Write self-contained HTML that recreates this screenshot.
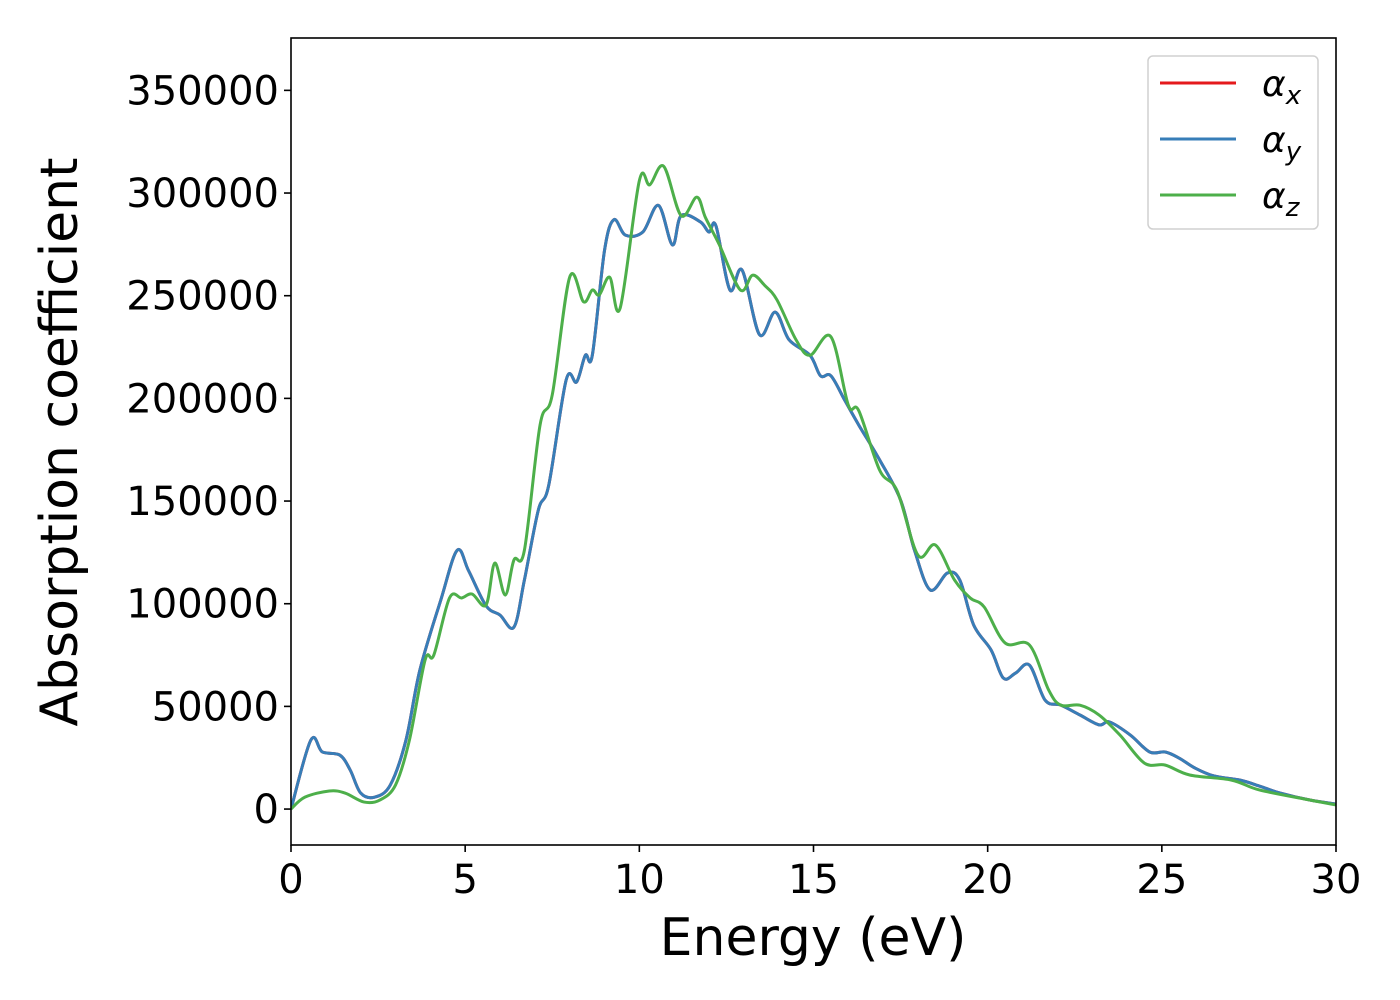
<!DOCTYPE html>
<html><head><meta charset="utf-8">
<style>
body{margin:0;background:#fff;}
svg{display:block;font-family:"DejaVu Sans","Liberation Sans",sans-serif;}
</style></head>
<body>
<svg id="chart" width="1400" height="1000">
</svg>
<script>
const xTicks=[0,5,10,15,20,25,30];
const yTicks=[0,50000,100000,150000,200000,250000,300000,350000];
const energyXY=[0,0.57,0.9,1.4,1.7,2.0,2.4,2.85,3.3,3.7,4.3,4.77,5.1,5.6,6.0,6.4,6.7,7.1,7.4,7.9,8.2,8.45,8.65,9.0,9.27,9.6,10.1,10.55,10.95,11.2,11.75,12.0,12.2,12.6,12.95,13.45,13.9,14.3,14.9,15.2,15.5,15.9,16.3,16.9,17.5,17.9,18.35,18.85,19.2,19.6,20.1,20.45,20.8,21.2,21.65,22.1,22.65,23.2,23.5,24.1,24.65,25.1,25.5,25.95,26.5,27.25,27.8,28.4,29.25,30];
const alphaXY=[0,33600,27800,26300,19000,7800,5800,11700,33600,67700,101800,126000,116000,99000,94500,88600,111500,145600,157800,209000,208000,221000,221000,272000,287000,279500,281000,294000,274700,289000,286000,281000,284000,252800,262500,231000,242000,228500,221000,211000,211000,199000,187000,170000,150500,126000,106700,115000,111500,89600,77400,63800,66200,70100,53000,50600,45800,41000,42400,36000,27800,27800,24800,20000,16100,14100,11200,7800,4400,2400];
const energyZ=[0,0.4,1.1,1.55,2.1,2.55,3.0,3.4,3.85,4.1,4.55,4.9,5.2,5.6,5.85,6.15,6.4,6.7,7.15,7.5,8.0,8.4,8.65,8.85,9.15,9.45,10.0,10.3,10.7,11.2,11.65,11.9,12.3,12.9,13.25,13.6,13.95,14.5,14.9,15.5,16.0,16.3,16.9,17.4,18.0,18.5,19.05,19.5,19.9,20.5,21.2,21.75,22.1,22.65,23.2,23.8,24.5,25.1,25.8,27.0,27.8,29.25,30];
const alphaZ=[0,5800,8800,7800,3400,4400,11700,33600,72600,75000,102800,102800,104700,99400,119800,104200,121300,126000,187000,201700,259000,247000,252800,250400,259000,244000,306000,304000,313000,289000,298000,288000,274700,252800,260000,255000,248000,228500,221000,230000,196700,194000,165000,155000,123600,128600,111500,102800,98400,80900,79900,58000,50600,50600,45800,36000,22400,21400,16600,14100,9300,4400,2000];

const L=291,R=1336,T=38,B=845;
const xMin=0,xMax=30,yMin=-17500,yMax=375500;
const sx=v=>L+(v-xMin)/(xMax-xMin)*(R-L);
const sy=v=>B-(v-yMin)/(yMax-yMin)*(B-T);
const NS="http://www.w3.org/2000/svg";
const svg=document.getElementById('chart');
function mk(tag,attrs,parent){const e=document.createElementNS(NS,tag);for(const k in attrs)e.setAttribute(k,attrs[k]);(parent||svg).appendChild(e);return e;}
function smooth(xs,ys){
  const p=xs.map((x,i)=>[sx(x),sy(ys[i])]);
  let d=`M${p[0][0]},${p[0][1]}`;
  for(let i=0;i<p.length-1;i++){
    const p0=p[Math.max(i-1,0)],p1=p[i],p2=p[i+1],p3=p[Math.min(i+2,p.length-1)];
    const c1=[p1[0]+(p2[0]-p0[0])/6,p1[1]+(p2[1]-p0[1])/6];
    const c2=[p2[0]-(p3[0]-p1[0])/6,p2[1]-(p3[1]-p1[1])/6];
    d+=`C${c1[0]},${c1[1]} ${c2[0]},${c2[1]} ${p2[0]},${p2[1]}`;
  }
  return d;
}
const clip=mk('clipPath',{id:'pc'});mk('rect',{x:L,y:T,width:R-L,height:B-T},clip);
const g=mk('g',{'clip-path':'url(#pc)'});
const lx=mk('path',{d:smooth(energyXY,alphaXY),fill:'none',stroke:'#e41a1c','stroke-width':3},g);


const ly=mk('path',{d:smooth(energyXY,alphaXY),fill:'none',stroke:'#377eb8','stroke-width':3},g);


const lz=mk('path',{d:smooth(energyZ,alphaZ),fill:'none',stroke:'#4daf4a','stroke-width':3},g);



const frame=mk('rect',{x:L,y:T,width:R-L,height:B-T,fill:'none',stroke:'#000','stroke-width':1.6});


xTicks.forEach(t=>{
  mk('line',{x1:sx(t),x2:sx(t),y1:B,y2:B+7,stroke:'#000','stroke-width':1.6});
  const tx=mk('text',{x:sx(t),y:B+48,'font-size':40,'text-anchor':'middle'});
  tx.textContent=t;
  
  
});
yTicks.forEach(t=>{
  mk('line',{x1:L-7,x2:L,y1:sy(t),y2:sy(t),stroke:'#000','stroke-width':1.6});
  const tx=mk('text',{x:L-12,y:sy(t)+14,'font-size':40,'text-anchor':'end'});
  tx.textContent=t;
  
  
});
const xt=mk('text',{x:813,y:955,'font-size':52,'text-anchor':'middle'});
xt.textContent='Energy (eV)';


const yt=mk('text',{x:0,y:0,'font-size':52,'text-anchor':'middle',transform:'translate(77,442) rotate(-90)'});
yt.textContent='Absorption coefficient';



const lg=mk('g',{});


mk('rect',{x:1148,y:56,width:170,height:173,rx:5,fill:'#fff',stroke:'#d0d0d0','stroke-width':1.5},lg);
const legColors=['#e41a1c','#377eb8','#4daf4a'];
const legSubs=['x','y','z'];
legColors.forEach((c,i)=>{
  const y=83+i*56;
  const e=mk('g',{},lg);
  
  
  mk('line',{x1:1160,x2:1236,y1:y,y2:y,stroke:c,'stroke-width':3},e);
  const t=mk('text',{x:1262,y:y+13,'font-size':36,'font-style':'italic'},e);
  const a=mk('tspan',{},t);a.textContent='α';
  const s=mk('tspan',{'font-size':26,dy:8},t);s.textContent=legSubs[i];
});
</script>
</body></html>
